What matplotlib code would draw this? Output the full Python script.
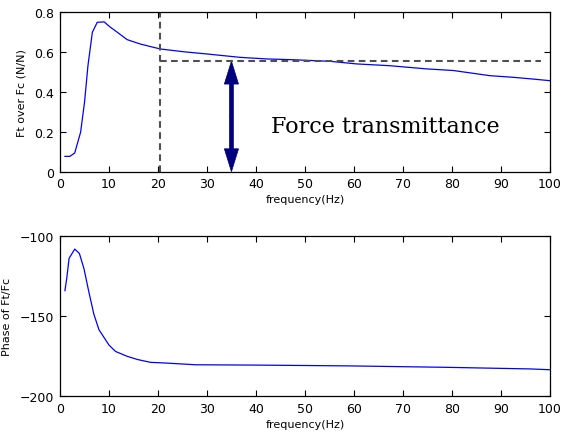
import matplotlib
matplotlib.use("Agg")
import matplotlib.pyplot as plt
from matplotlib.patches import FancyArrow

# magnitude |Ft/Fc|
freq_mag = [1, 2, 3, 4.2, 5.0, 5.7, 6.6, 7.6, 9.0, 10.3, 11.7, 13.7, 16.4, 18.5, 20.5,
            25.3, 30, 36.8, 42.3, 47.7, 55.2, 60.6, 67.4, 74.9, 80.3, 87.8, 92.5, 96.6, 100]
mag = [0.077, 0.077, 0.094, 0.198, 0.348, 0.532, 0.70, 0.75, 0.752, 0.725, 0.70, 0.663,
       0.641, 0.628, 0.616, 0.602, 0.591, 0.574, 0.566, 0.562, 0.554, 0.541, 0.532,
       0.516, 0.508, 0.482, 0.474, 0.465, 0.457]

# phase of Ft/Fc (deg)
freq_ph = [1, 1.4, 1.85, 3.0, 3.95, 4.9, 5.9, 6.9, 7.95, 10, 11.35, 13.7, 15.8, 18.5,
           21.5, 27.7, 40, 59, 79, 96, 100]
phase = [-134, -125.6, -113.8, -108, -110.7, -120.4, -135, -148.6, -158.4, -168, -172,
         -175, -177, -178.8, -179.2, -180.3, -180.5, -181.0, -181.9, -182.9, -183.4]

# annotation values
f_cut = 20.5
f_dash_end = 98.3
level = 0.555
f_arrow = 35

xticks = list(range(0, 101, 10))
mag_ticks = [0, 0.2, 0.4, 0.6, 0.8]
mag_ticklabels = ["0", "0.2", "0.4", "0.6", "0.8"]
ph_ticks = [-200, -150, -100]

fig = plt.figure(figsize=(5.61, 4.39), dpi=100)
ax1 = fig.add_axes([0.107, 0.6066, 0.873, 0.363])
ax2 = fig.add_axes([0.107, 0.095, 0.873, 0.3645])

for ax in (ax1, ax2):
    ax.tick_params(direction="in", top=True, right=True, length=4, width=0.8,
                   labelsize=9, pad=4)
    for s in ax.spines.values():
        s.set_linewidth(0.9)
    ax.set_xlim(0, 100)
    ax.set_xticks(xticks)
    ax.set_xlabel("frequency(Hz)", fontsize=8, labelpad=3)

ax1.plot(freq_mag, mag, color="#0000ff", lw=0.9)
ax1.set_ylim(0, 0.8)
ax1.set_yticks(mag_ticks)
ax1.set_yticklabels(mag_ticklabels)
ax1.set_ylabel("Ft over Fc (N/N)", fontsize=8, labelpad=6)

dash = (0, (3.2, 2.1))
ax1.axvline(f_cut, color="#505050", ls=dash, lw=1.5)
ax1.plot([f_cut, f_dash_end], [level, level], color="#505050", ls=dash, lw=1.5)

# double headed arrow: two arrows starting from the middle
mid = level / 2
for y0, dy in ((mid, level - mid), (mid, -mid)):
    ax1.add_patch(FancyArrow(f_arrow, y0, 0, dy, width=0.8, head_width=2.9,
                             head_length=0.115, length_includes_head=True,
                             facecolor="#00007f", edgecolor="#00007f", lw=0.5))
ax1.text(43, 0.23, "Force transmittance", family="DejaVu Serif", fontsize=16,
         va="center", ha="left")

ax2.plot(freq_ph, phase, color="#0000ff", lw=0.9)
ax2.set_ylim(-200, -100)
ax2.set_yticks(ph_ticks)
ax2.set_ylabel("Phase of Ft/Fc", fontsize=8, labelpad=6)

fig.savefig("out.png", dpi=100)
